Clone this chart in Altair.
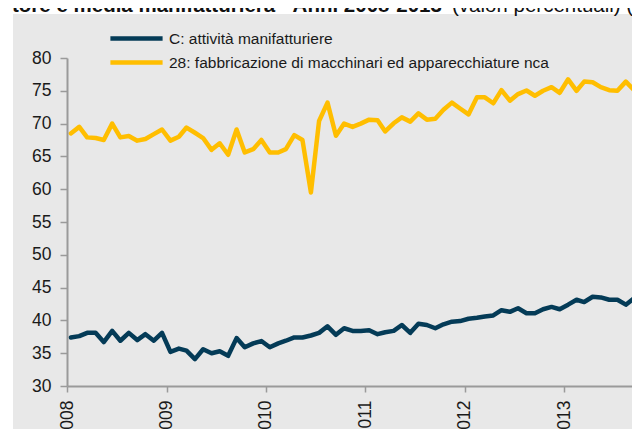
import altair as alt
import pandas as pd

series_c = "C: attività manifatturiere"
series_28 = "28: fabbricazione di macchinari ed apparecchiature nca"

# monthly values, Jan 2008 onwards (percent)
vals_c = [37.4, 37.6, 38.1, 38.1, 36.7, 38.4, 36.9, 38.1, 37.0, 37.9, 36.9, 38.1,
          35.2, 35.7, 35.4, 34.1, 35.6, 35.0, 35.3, 34.6, 37.3, 35.9, 36.5, 36.85,
          35.9, 36.5, 36.9, 37.4, 37.4, 37.7, 38.1, 39.1, 37.8, 38.8, 38.4, 38.4,
          38.5, 37.9, 38.2, 38.4, 39.3, 38.1, 39.5, 39.3, 38.8, 39.4, 39.8, 39.9,
          40.25, 40.4, 40.6, 40.75, 41.55, 41.3, 41.85, 41.1, 41.1, 41.7, 42.05, 41.7,
          42.4, 43.15, 42.8, 43.6, 43.5, 43.15, 43.15, 42.4, 43.4, 43.9]
vals_28 = [68.5, 69.5, 67.9, 67.8, 67.5, 70.0, 67.9, 68.1, 67.4, 67.65, 68.4, 69.1,
           67.4, 68.0, 69.4, 68.6, 67.8, 66.0, 67.0, 65.25, 69.1, 65.6, 66.1, 67.5,
           65.6, 65.6, 66.1, 68.25, 67.5, 59.5, 70.4, 73.2, 68.15, 70.0, 69.5, 70.0,
           70.6, 70.5, 68.8, 70.05, 70.95, 70.3, 71.55, 70.6, 70.75, 72.1, 73.2, 72.3,
           71.4, 74.0, 74.0, 73.1, 75.1, 73.5, 74.5, 75.05, 74.25, 75.0, 75.55, 74.7,
           76.75, 75.0, 76.4, 76.3, 75.55, 75.1, 75.0, 76.4, 75.05, 76.6]
months = [f"{2008 + k // 12}-{k % 12 + 1:02d}-15" for k in range(len(vals_c))]

title_bold = "tore e media manifatturiera - Anni 2008-2013"
title_regular = "(valori percentuali) ("

df = pd.concat([
    pd.DataFrame({"mese": months, "valore": vals_c, "serie": series_c}),
    pd.DataFrame({"mese": months, "valore": vals_28, "serie": series_28}),
])

NAVY = "#043b57"
YELLOW = "#ffbe00"
FONT = "Liberation Sans"

PAD_BOTTOM = 43

panel = alt.Chart(pd.DataFrame({"a": [0]})).mark_rect(color="#e8e8e8").encode(
    x=alt.value(-54), x2=alt.value(573), y=alt.value(-44), y2=alt.value(328 + 56)
)

t1 = alt.Chart(pd.DataFrame({"a": [0]})).mark_text(
    font=FONT, fontSize=20.5, fontWeight="bold", align="left", baseline="alphabetic", color="#111"
).encode(x=alt.value(-55), y=alt.value(-46), text=alt.value(title_bold))

t2 = alt.Chart(pd.DataFrame({"a": [0]})).mark_text(
    font=FONT, fontSize=20.5, align="left", baseline="alphabetic", color="#111"
).encode(x=alt.value(385), y=alt.value(-46), text=alt.value(title_regular))

lines = alt.Chart(df).mark_line(strokeWidth=4.5, strokeJoin="round", strokeCap="round", clip=True).encode(
    x=alt.X("mese:T",
            scale=alt.Scale(type="utc",
                            domain=[alt.DateTime(year=2008, month=1, date=1, utc=True),
                                    alt.DateTime(year=2013, month=10, date=6, utc=True)]),
            axis=alt.Axis(title=None, format="%Y", tickCount={"interval": "year", "step": 1},
                          labelAngle=270, labelAlign="right", labelBaseline="middle",
                          labelFontSize=17.5, labelPadding=8, tickSize=6, zindex=1)),
    y=alt.Y("valore:Q", scale=alt.Scale(domain=[30, 80], nice=False, zero=False),
            axis=alt.Axis(title=None, values=list(range(30, 81, 5)), labelFontSize=17.5,
                          labelPadding=9, tickSize=7, zindex=1)),
    color=alt.Color("serie:N",
                    scale=alt.Scale(domain=[series_c, series_28], range=[NAVY, YELLOW]),
                    legend=alt.Legend(title=None, orient="none", legendX=41, legendY=-28,
                                      symbolType="M-4.35,0L4.35,0", symbolSize=144,
                                      symbolStrokeWidth=4.5, symbolOffset=20,
                                      labelFontSize=15.5, labelOffset=24, rowPadding=5, padding=0,
                                      labelLimit=600,
                                      labelFont=FONT, labelColor="#1a1a1a")),
    order=alt.Order("mese:T"),
)

chart = alt.layer(panel, t1, t2, lines).properties(
    width=573, height=328,
    autosize=alt.AutoSizeParams(type="none"),
    padding={"left": 59, "top": 50, "right": -8, "bottom": PAD_BOTTOM},
    background="white",
).configure_view(stroke=None).configure_axis(
    grid=False, domainColor="#9a9a9a", domainWidth=2, tickColor="#9a9a9a", tickWidth=1.5,
    labelFont=FONT, labelColor="#1a1a1a",
)

chart.save("out.html", embed_options={"renderer": "svg", "actions": False})
